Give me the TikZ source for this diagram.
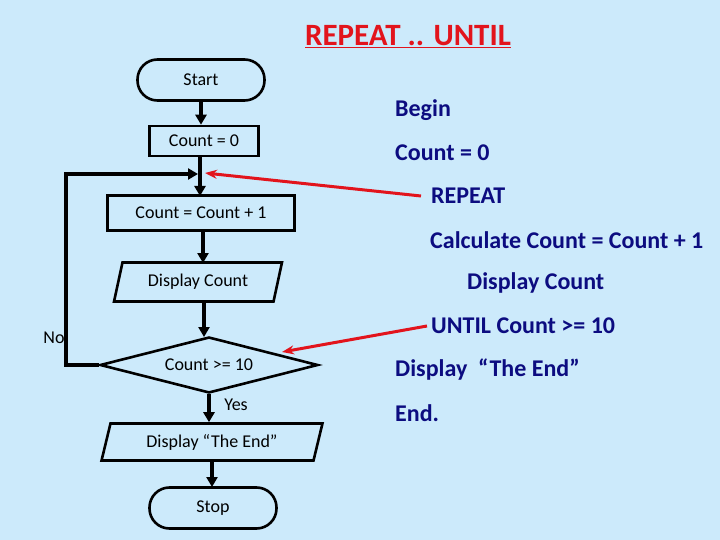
\documentclass[tikz,border=0pt]{standalone}
\usepackage{fontspec}
\setmainfont{Carlito}
\usetikzlibrary{shapes.geometric,arrows.meta}
\definecolor{bgblue}{HTML}{CCEAFB}
\definecolor{navy}{HTML}{0C0C80}
\definecolor{titlered}{HTML}{E2141C}
\begin{document}
\begin{tikzpicture}[x=1pt,y=-1pt,
  box/.style={draw=black,line width=2.6pt,fill=bgblue,inner sep=0pt,font=\fontsize{18}{21}\selectfont},
  term/.style={box,rectangle,rounded corners=20pt,minimum width=127pt,minimum height=41pt},
  proc/.style={box,rectangle},
  io/.style={box,trapezium,trapezium left angle=70,trapezium right angle=110,trapezium stretches=true},
  dec/.style={box,diamond,minimum width=218pt,minimum height=56pt,aspect=3.9},
  flow/.style={line width=3.6pt,-{Triangle[length=10pt,width=11pt]}},
  redarrow/.style={draw=titlered,line width=3pt,-{Stealth[length=12pt,width=9pt]}},
  code/.style={anchor=west,text=navy,font=\fontsize{24}{28}\selectfont\bfseries,inner sep=0pt},
  lab/.style={font=\fontsize{18}{21}\selectfont,inner sep=0pt}]
\useasboundingbox[fill=bgblue] (0,0) rectangle (720,540);
\node[text=titlered,font=\fontsize{31}{36}\selectfont\bfseries,inner sep=0pt] (title) at (408,37) {\underline{REPEAT .. UNTIL}};
\node[term] (start) at (201,80) {Start};
\node[proc,minimum width=109pt,minimum height=30pt] (c0) at (204,141) {Count = 0};
\node[proc,minimum width=187pt,minimum height=35pt] (c1) at (201,213) {Count = Count + 1};
\node[io,minimum width=168pt,minimum height=39pt] (disp) at (198,282) {Display Count};
\node[dec] (test) at (209,365) {Count >= 10};
\node[io,minimum width=221pt,minimum height=37pt] (end) at (212,442) {Display “The End”};
\node[term] (stop) at (213,508) {Stop};
\node[lab] (no) at (54,338) {No};
\node[lab] (yes) at (236,405) {Yes};
\coordinate (merge) at (198,174);
\coordinate (redtip1) at (205,173);
\coordinate (redtip2) at (282,352);
\draw[flow] (start.south) -- (start.south |- c0.north);
\draw[flow] (c0.south -| 200,0) -- (200,196);
\draw[flow] (test.west) -- (66,365) -- (66,174) -- (merge);
\draw[flow] (c1.south -| 203,0) -- (203,263);
\draw[flow] (disp.south -| 204,0) -- (204,337);
\draw[flow] (test.south) -- (test.south |- end.north);
\draw[flow] (end.south -| 212,0) -- (212,487);
\node[code] (begin) at (395,110) {Begin};
\node[code] (cz) at (395,153) {Count = 0};
\node[code] (rep) at (431,196) {REPEAT};
\node[code] (calc) at (430,240) {Calculate Count = Count + 1};
\node[code] (dc) at (467,283) {Display Count};
\node[code] (until) at (431,326) {UNTIL Count >= 10};
\node[code] (dte) at (395,370) {Display \ “The End”};
\node[code] (fin) at (395,413) {End.};
\draw[redarrow] ([xshift=-10pt]rep.west) -- (redtip1);
\draw[redarrow] ([xshift=-4pt]until.west) -- (redtip2);
\end{tikzpicture}
\end{document}
